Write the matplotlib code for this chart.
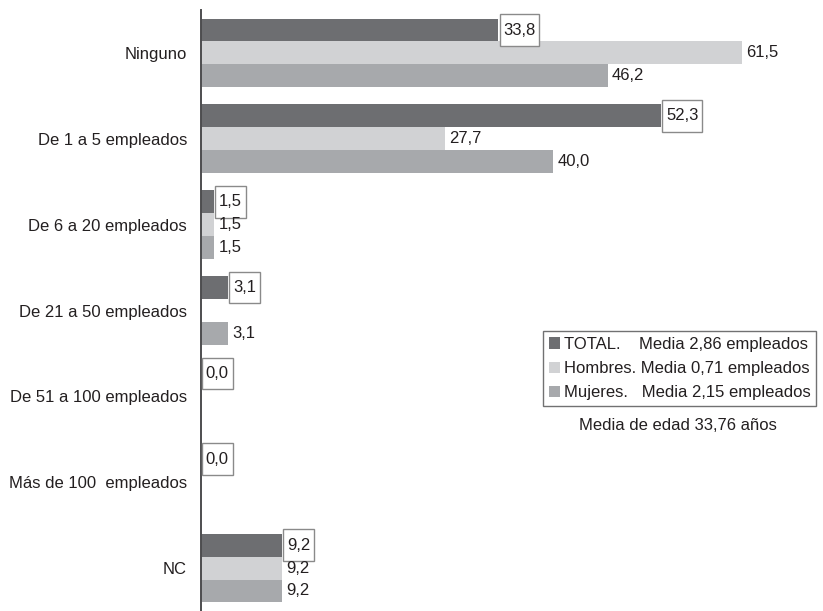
import numpy as np
import matplotlib.pyplot as plt
from matplotlib.patches import Patch
from matplotlib.path import Path

plt.rcParams['font.family'] = ['Liberation Sans', 'DejaVu Sans']

categorias = ["Ninguno", "De 1 a 5 empleados", "De 6 a 20 empleados",
              "De 21 a 50 empleados", "De 51 a 100 empleados",
              "Más de 100  empleados", "NC"]
total = [33.8, 52.3, 1.5, 3.1, 0.0, 0.0, 9.2]
hombres = [61.5, 27.7, 1.5, np.nan, np.nan, np.nan, 9.2]
mujeres = [46.2, 40.0, 1.5, 3.1, np.nan, np.nan, 9.2]

series = [
    ("TOTAL.    Media 2,86 empleados", total, "#6d6e71"),
    ("Hombres. Media 0,71 empleados", hombres, "#d1d2d4"),
    ("Mujeres.   Media 2,15 empleados", mujeres, "#a7a9ac"),
]
nota = "Media de edad 33,76 años"

text_color = "#231f20"
fs = 12


def tall_box(x0, y0, width, height, mutation_size):
    # rectangle with more room above/below the text than at the sides
    px = 0.22 * mutation_size
    py = 0.5 * mutation_size
    x0, x1 = x0 - px, x0 + width + px
    y0, y1 = y0 - py, y0 + height + py
    return Path([(x0, y0), (x1, y0), (x1, y1), (x0, y1), (x0, y0)], closed=True)


fig = plt.figure(figsize=(8.23, 6.11), dpi=100)
ax = fig.add_axes([201 / 823, 0.0, 616 / 823, 1 - 10 / 611])

y = np.arange(len(categorias))
h = 0.267
for i, (name, vals, color) in enumerate(series):
    pos = y + (i - 1) * h
    vals = np.array(vals, dtype=float)
    ax.barh(pos, np.nan_to_num(vals), height=h, color=color, linewidth=0)
    for yy, v in zip(pos, vals):
        if np.isnan(v):
            continue
        txt = f"{v:.1f}".replace(".", ",")
        if i == 0:
            # the TOTAL values go in a framed box
            ax.annotate(txt, (v, yy), xytext=(3.5, 0), textcoords="offset points",
                        va="center", ha="left", fontsize=fs, color=text_color,
                        bbox=dict(boxstyle=tall_box, fc="white",
                                  ec="#8a8a8a", lw=1))
        else:
            ax.annotate(txt, (v, yy), xytext=(3, 0), textcoords="offset points",
                        va="center", ha="left", fontsize=fs, color=text_color)

ax.set_xlim(0, 70)
ax.set_ylim(6.5, -0.5)
ax.set_yticks(y)
ax.set_yticklabels(categorias, fontsize=fs, color=text_color)
ax.tick_params(axis="y", length=0, pad=10)
ax.set_xticks([])
for s in ["top", "right", "bottom"]:
    ax.spines[s].set_visible(False)
ax.spines["left"].set_color("#4d4d4f")
ax.spines["left"].set_linewidth(1.4)

handles = [Patch(facecolor=c, edgecolor="none", label=n) for n, _, c in series]
leg = fig.legend(handles=handles, loc="upper left",
                 bbox_to_anchor=(543 / 823, 1 - 331 / 611),
                 fontsize=fs, frameon=True, fancybox=False,
                 handlelength=0.65, handleheight=0.65, handletextpad=0.25,
                 labelspacing=0.55, borderpad=0.35, borderaxespad=0)
leg.get_frame().set_edgecolor("#4d4d4f")
leg.get_frame().set_linewidth(1.0)
for t in leg.get_texts():
    t.set_color(text_color)

fig.text(678 / 823, 1 - 425 / 611, nota, ha="center", va="center",
         fontsize=fs, color=text_color)

fig.savefig("out.png", dpi=100)
